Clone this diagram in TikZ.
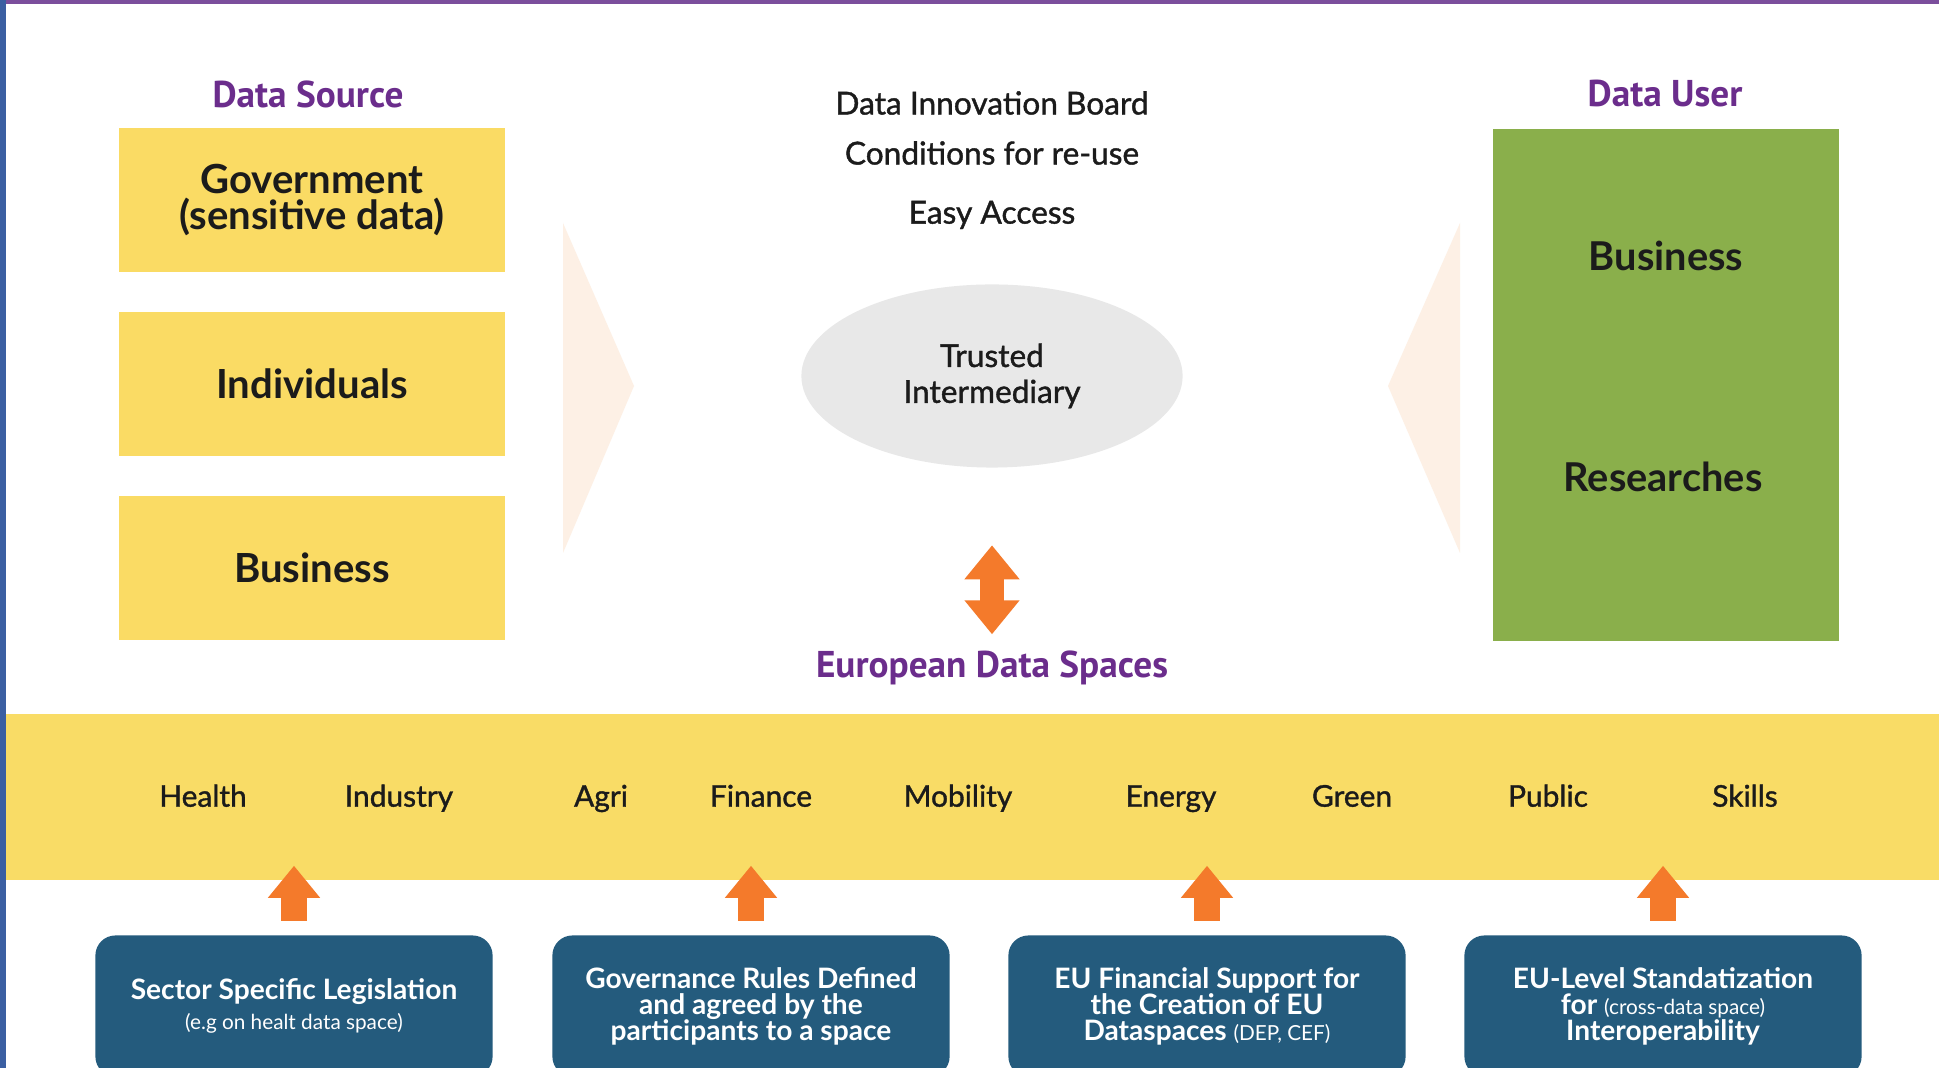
\documentclass[tikz,border=0pt]{standalone}
\usepackage{fontspec}
\setmainfont{Lato}
\newfontfamily\headfont{PT Sans}
\newfontfamily\midfont[FakeBold=1.2]{Lato}
\usetikzlibrary{shapes.geometric,arrows.meta}

\definecolor{srcyellow}{HTML}{FADB64}
\definecolor{bandyellow}{HTML}{F9DC66}
\definecolor{usergreen}{HTML}{8AAF4B}
\definecolor{suppblue}{HTML}{245B7D}
\definecolor{arroworange}{HTML}{F47A2B}
\definecolor{headpurple}{HTML}{6B2D8C}
\definecolor{chevron}{HTML}{FDF0E5}
\definecolor{intergray}{HTML}{E8E8E8}
\definecolor{frameblue}{HTML}{3B5FA2}
\definecolor{framepurple}{HTML}{7B4E9C}
\definecolor{inktext}{HTML}{1B1B1B}

\tikzstyle{sourcebox} = [rectangle, minimum width=3.85cm, minimum height=1.44cm, inner sep=0pt, align=center, fill=srcyellow, text=inktext, font=\fontsize{11.4}{10.5}\selectfont\bfseries]
\tikzstyle{userbox} = [rectangle, minimum width=3.46cm, minimum height=5.12cm, inner sep=0pt, fill=usergreen]
\tikzstyle{userlabel} = [text=inktext, font=\fontsize{11.3}{13}\selectfont\bfseries]
\tikzstyle{heading} = [text=headpurple, font=\headfont\fontsize{10.6}{12}\selectfont\bfseries]
\tikzstyle{boardtext} = [text=inktext, font=\midfont\fontsize{9.0}{11}\selectfont]
\tikzstyle{trusted} = [ellipse, minimum width=3.81cm, minimum height=1.83cm, inner sep=0pt, align=center, fill=intergray, text=inktext, font=\midfont\fontsize{9.0}{10.2}\selectfont]
\tikzstyle{sector} = [text=inktext, text height=1.6ex, text depth=0.4ex, font=\midfont\fontsize{8.5}{10}\selectfont]
\tikzstyle{supportbox} = [rectangle, rounded corners=0.2cm, minimum width=3.97cm, minimum height=1.41cm, inner sep=0pt, align=center, fill=suppblue, text=white, font=\fontsize{8.0}{7.4}\selectfont\bfseries]
\tikzstyle{uparrow} = [draw=arroworange, line width=0.26cm, -{Triangle[length=0.32cm, width=0.5cm]}]
\tikzstyle{dblarrow} = [draw=arroworange, line width=0.24cm, {Triangle[length=0.34cm, width=0.53cm]}-{Triangle[length=0.34cm, width=0.53cm]}]
\newcommand{\smallnote}[1]{{\mdseries\fontsize{5.9}{6}\selectfont #1}}

\begin{document}
\begin{tikzpicture}[x=0.01cm, y=-0.01cm, node distance=1.84cm]

\useasboundingbox [fill=white] (0,0) rectangle (1939,1068);
\fill [framepurple] (0,0) rectangle (1939,4);
\fill [frameblue] (0,0) rectangle (6,1068);

\fill [chevron] (563,223) -- (634,386) -- (563,553) -- cycle;
\fill [chevron] (1460,223) -- (1388,386) -- (1460,553) -- cycle;

\node (srchead) [heading] at (308,94) {Data Source};

\node (gov) [sourcebox] at (312,200) {Government\\(sensitive data)};

\node (indiv) [sourcebox, below of=gov] {Individuals};

\node (srcbiz) [sourcebox, below of=indiv] {Business};

\node (userhead) [heading] at (1665,94) {Data User};

\node (users) [userbox] at (1666,385) {};
\node (userbiz) [userlabel] at (1666,256) {Business};
\node (research) [userlabel] at (1663,477) {Researches};

\node (board) [boardtext] at (992,103) {Data Innovation Board};
\node (reuse) [boardtext] at (992,153) {Conditions for re-use};
\node (access) [boardtext] at (992,215) {Easy Access};

\node (inter) [trusted] at (992,376) {Trusted\\Intermediary};

\node (eds) [heading] at (992,668) {European Data Spaces};

\node (band) [rectangle, minimum width=19.32cm, minimum height=1.65cm, inner sep=0pt, fill=bandyellow] at (973,797) {};

\node (health) [sector] at (203,796) {Health};
\node (industry) [sector] at (399,796) {Industry};
\node (agri) [sector] at (601,796) {Agri};
\node (finance) [sector] at (761,796) {Finance};
\node (mobility) [sector] at (958,796) {Mobility};
\node (energy) [sector] at (1171,796) {Energy};
\node (green) [sector] at (1352,796) {Green};
\node (public) [sector] at (1548,796) {Public};
\node (skills) [sector] at (1745,796) {Skills};

\node (legal) [supportbox] at (294,1006) {Sector Specific Legislation\\[1pt]\smallnote{(e.g on healt data space)}};
\node (rules) [supportbox] at (751,1006) {Governance Rules Defined\\and agreed by the\\participants to a space};
\node (funding) [supportbox] at (1207,1006) {EU Financial Support for\\the Creation of EU\\Dataspaces \smallnote{(DEP, CEF)}};
\node (standard) [supportbox] at (1663,1006) {EU-Level Standatization\\for \smallnote{(cross-data space)}\\Interoperability};

\draw [dblarrow] ([yshift=-0.77cm]inter.south) -- ++(0,89);

\draw [uparrow] ([yshift=0.14cm]legal.north) -- ++(0,-55);
\draw [uparrow] ([yshift=0.14cm]rules.north) -- ++(0,-55);
\draw [uparrow] ([yshift=0.14cm]funding.north) -- ++(0,-55);
\draw [uparrow] ([yshift=0.14cm]standard.north) -- ++(0,-55);
\end{tikzpicture}
\end{document}
